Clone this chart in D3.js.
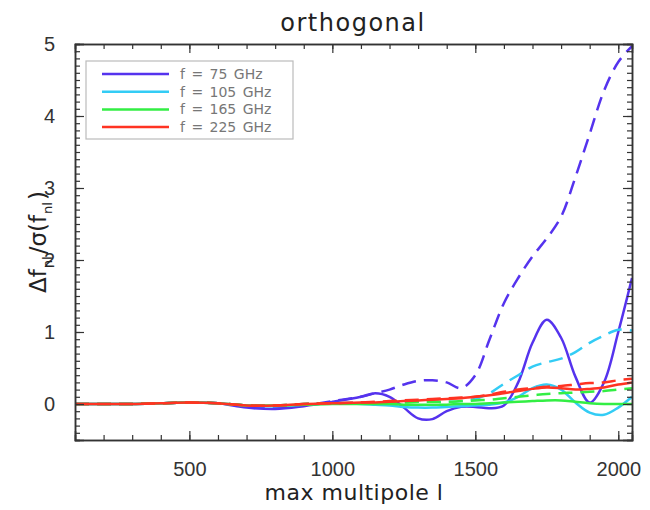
<!DOCTYPE html>
<html>
<head>
<meta charset="utf-8">
<script src="https://cdn.jsdelivr.net/npm/d3@7"></script>
<style>
  body { margin: 0; background: #fff; }
  svg { font-family: "DejaVu Sans", sans-serif; }
</style>
</head>
<body>
<svg id="chart" width="650" height="510"></svg>
<script>
// multipole sample points
const ells = [100, 200, 300, 400, 500, 600, 700, 800, 900, 1000, 1100, 1150, 1200, 1250, 1300, 1350, 1400, 1450,
              1500, 1550, 1600, 1650, 1700, 1750, 1800, 1850, 1900, 1950, 2000, 2048];

const f75solid  = [0, 0, 0, 0.01, 0.02, 0.01, -0.05, -0.07, -0.03, 0.03, 0.1, 0.15, 0.1, -0.05, -0.2, -0.21, -0.1, -0.04,
                   -0.04, -0.06, -0.02, 0.3, 0.85, 1.17, 0.92, 0.38, 0.02, 0.3, 1.0, 1.75];
const f75dash   = [0, 0, 0, 0.01, 0.02, 0.01, -0.03, -0.05, -0.02, 0.04, 0.1, 0.15, 0.2, 0.27, 0.32, 0.33, 0.3, 0.22,
                   0.4, 0.9, 1.4, 1.75, 2.05, 2.3, 2.6, 3.15, 3.75, 4.35, 4.75, 4.97];
const f105solid = [0, 0, 0, 0.01, 0.02, 0.01, -0.02, -0.03, -0.01, 0.01, 0, -0.01, -0.02, -0.04, -0.05, -0.05, -0.04, -0.03,
                   -0.02, -0.01, 0.02, 0.1, 0.22, 0.27, 0.2, 0.02, -0.12, -0.15, -0.05, 0.1];
const f105dash  = [0, 0, 0, 0.01, 0.02, 0.01, -0.02, -0.02, 0, 0.01, 0.02, 0.02, 0.02, 0.03, 0.03, 0.03, 0.03, 0.04,
                   0.07, 0.15, 0.28, 0.4, 0.52, 0.58, 0.63, 0.72, 0.85, 0.95, 1.03, 1.02];
const f165solid = [0, 0, 0, 0.01, 0.02, 0.01, -0.02, -0.02, -0.01, 0, 0, 0, 0, -0.01, -0.01, -0.01, -0.01, 0,
                   0, 0.01, 0.02, 0.03, 0.04, 0.05, 0.05, 0.03, 0.01, 0, 0, 0];
const f165dash  = [0, 0, 0, 0.01, 0.02, 0.01, -0.02, -0.02, 0, 0.01, 0.01, 0.02, 0.02, 0.02, 0.03, 0.03, 0.03, 0.04,
                   0.05, 0.06, 0.08, 0.1, 0.12, 0.14, 0.15, 0.16, 0.17, 0.18, 0.2, 0.22];
const f225solid = [0, 0, 0, 0.01, 0.02, 0.01, -0.02, -0.02, 0, 0.01, 0.02, 0.02, 0.03, 0.04, 0.05, 0.06, 0.07, 0.08,
                   0.1, 0.12, 0.15, 0.18, 0.21, 0.23, 0.22, 0.2, 0.21, 0.23, 0.27, 0.3];
const f225dash  = [0, 0, 0, 0.01, 0.02, 0.01, -0.02, -0.02, 0, 0.01, 0.02, 0.03, 0.04, 0.05, 0.06, 0.07, 0.08, 0.09,
                   0.1, 0.13, 0.17, 0.2, 0.22, 0.24, 0.25, 0.27, 0.29, 0.3, 0.33, 0.35];

const freqLabels = ["f = 75 GHz", "f = 105 GHz", "f = 165 GHz", "f = 225 GHz"];
const colors = ["#5533ee", "#33ccf5", "#33ee44", "#ff3322"];
const xTicks = [500, 1000, 1500, 2000];
const yTicks = [0, 1, 2, 3, 4, 5];

const series = [
  {solid: f75solid,  dash: f75dash},
  {solid: f105solid, dash: f105dash},
  {solid: f165solid, dash: f165dash},
  {solid: f225solid, dash: f225dash}
];

const svg = d3.select('#chart');
const margin = {left: 75, top: 44, right: 18, bottom: 70};
const W = 650, H = 510;

const x = d3.scaleLinear().domain([100, 2048]).range([margin.left, W - margin.right]);
const y = d3.scaleLinear().domain([-0.5, 5]).range([H - margin.bottom, margin.top]);

const ink = '#333';

// clip for curves
svg.append('defs').append('clipPath').attr('id', 'clip')
  .append('rect')
  .attr('x', x.range()[0]).attr('y', y.range()[1])
  .attr('width', x.range()[1] - x.range()[0])
  .attr('height', y.range()[0] - y.range()[1]);

// curves
const line = d3.line()
  .x((d, i) => x(ells[i]))
  .y(d => y(d))
  .curve(d3.curveCatmullRom.alpha(0.5));

const curves = svg.append('g').attr('clip-path', 'url(#clip)');
series.forEach((s, i) => {
  curves.append('path')
    .attr('d', line(s.dash))
    .attr('fill', 'none')
    .attr('stroke', colors[i])
    .attr('stroke-width', 2.5)
    .attr('stroke-dasharray', '14,8');
  curves.append('path')
    .attr('d', line(s.solid))
    .attr('fill', 'none')
    .attr('stroke', colors[i])
    .attr('stroke-width', 2.5);
});

// axes, ticks inside on all four sides
const xMinor = d3.range(200, 2048, 100);
const yMinor = d3.range(-5, 50).map(v => v / 10);

svg.append('g').attr('transform', `translate(0,${y.range()[0]})`)
  .call(d3.axisBottom(x).tickValues(xTicks).tickSize(-9).tickPadding(22).tickFormat(d3.format('d')));
svg.append('g').attr('transform', `translate(0,${y.range()[1]})`)
  .call(d3.axisTop(x).tickValues(xTicks).tickSize(-9).tickFormat(''));
svg.append('g').attr('transform', `translate(${x.range()[0]},0)`)
  .call(d3.axisLeft(y).tickValues(yTicks).tickSize(-9).tickPadding(20).tickFormat(d3.format('d')));
svg.append('g').attr('transform', `translate(${x.range()[1]},0)`)
  .call(d3.axisRight(y).tickValues(yTicks).tickSize(-9).tickFormat(''));

svg.append('g').attr('transform', `translate(0,${y.range()[0]})`)
  .call(d3.axisBottom(x).tickValues(xMinor).tickSize(-5).tickFormat(''));
svg.append('g').attr('transform', `translate(0,${y.range()[1]})`)
  .call(d3.axisTop(x).tickValues(xMinor).tickSize(-5).tickFormat(''));
svg.append('g').attr('transform', `translate(${x.range()[0]},0)`)
  .call(d3.axisLeft(y).tickValues(yMinor).tickSize(-5).tickFormat(''));
svg.append('g').attr('transform', `translate(${x.range()[1]},0)`)
  .call(d3.axisRight(y).tickValues(yMinor).tickSize(-5).tickFormat(''));

svg.selectAll('.domain').attr('stroke', ink).attr('stroke-width', 1.5);
svg.selectAll('.tick line').attr('stroke', ink).attr('stroke-width', 1.2);
svg.selectAll('.tick text').attr('fill', ink).style('font-size', '20px');

// legend
const lg = svg.append('g');
lg.append('rect')
  .attr('x', 86).attr('y', 61).attr('width', 207).attr('height', 78)
  .attr('fill', '#fff').attr('stroke', '#bbb').attr('stroke-width', 1.2);
freqLabels.forEach((t, i) => {
  const yy = 74 + i * 17.7;
  lg.append('line')
    .attr('x1', 102).attr('x2', 169).attr('y1', yy).attr('y2', yy)
    .attr('stroke', colors[i]).attr('stroke-width', 2.5);
  lg.append('text')
    .attr('x', 180).attr('y', yy + 5)
    .attr('fill', '#777').style('font-size', '14px')
    .style('word-spacing', '2px')
    .text(t);
});

// title and axis labels
svg.append('text')
  .attr('x', 353).attr('y', 31).attr('text-anchor', 'middle')
  .attr('fill', '#222').style('font-size', '24px').style('letter-spacing', '1.5px')
  .text('orthogonal');

svg.append('text')
  .attr('x', 354).attr('y', 500).attr('text-anchor', 'middle')
  .attr('fill', '#222').style('font-size', '22px').style('letter-spacing', '0.5px')
  .text('max multipole l');

const yl = svg.append('text')
  .attr('transform', 'translate(46,242) rotate(-90)')
  .attr('text-anchor', 'middle')
  .attr('fill', '#222').style('font-size', '23px');
yl.append('tspan').text('Δf');
yl.append('tspan').attr('dy', 6).attr('dx', 1).style('font-size', '13px').text('nl');
yl.append('tspan').attr('dy', -6).attr('dx', 2).text('/σ(f');
yl.append('tspan').attr('dy', 6).attr('dx', 1).style('font-size', '13px').text('nl');
yl.append('tspan').attr('dy', -6).attr('dx', 2).text(')');
</script>
</body>
</html>
